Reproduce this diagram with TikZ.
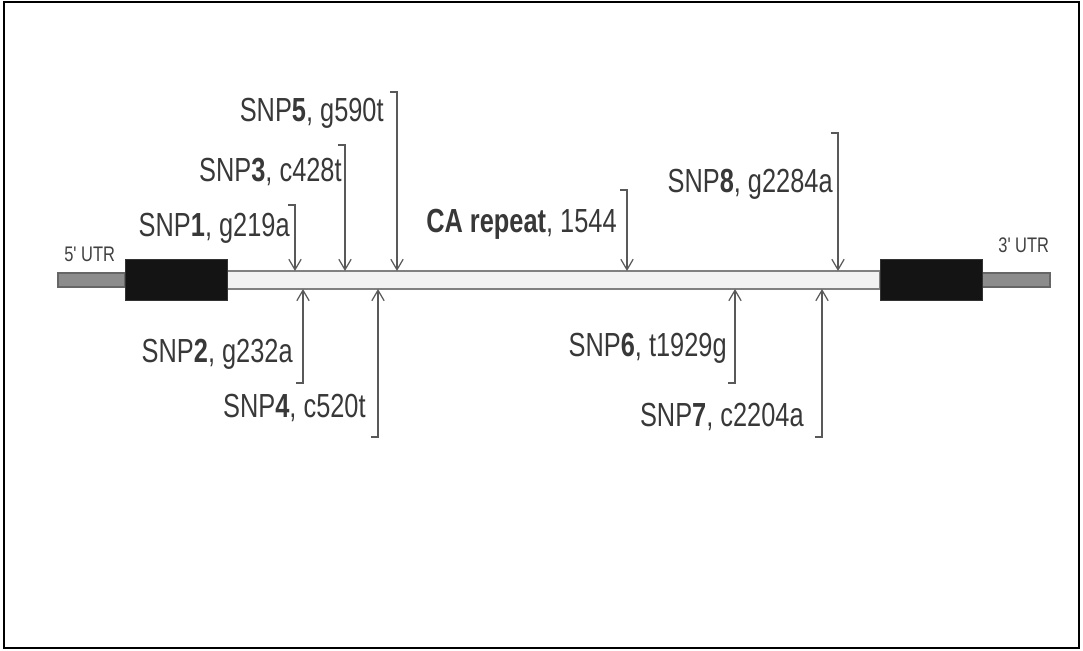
\documentclass[tikz,border=0pt]{standalone}
\usepackage{fontspec}
\setmainfont{Liberation Sans}[FakeStretch=0.76]
\newfontfamily\utrfont{Liberation Sans}[FakeStretch=0.78]
\usepackage{tikz}
\usetikzlibrary{arrows.meta}

\begin{document}
\begin{tikzpicture}[x=0.02cm, y=-0.02cm,
  lbl/.style={anchor=base east, inner sep=0pt, text=black!78, font=\fontsize{19}{21}\selectfont},
  utr/.style={anchor=base west, inner sep=0pt, text=black!75, font=\utrfont\fontsize{12}{14}\selectfont},
  snp/.style={draw=black!65, line width=0.7pt, -{Straight Barb[length=6pt,width=7pt]}}]
  \useasboundingbox (0,0) rectangle (1083,651);
  \draw[line width=1.1pt] (4,2) rectangle (1079,648);
  % gene
  \draw[fill=black!45, draw=black!60, line width=0.8pt] (58,273) rectangle (125,287);
  \draw[fill=black!45, draw=black!60, line width=0.8pt] (982,273) rectangle (1050,287);
  \draw[fill=black!5, draw=black!50, line width=1.4pt] (227,271) rectangle (880,289);
  \draw[fill=black!92, draw=black!80] (125,259) rectangle (227,300);
  \draw[fill=black!92, draw=black!80] (880,259) rectangle (982,300);
  \coordinate (cds) at (0,271);
  \coordinate (cdsb) at (0,289);
  \node[utr] (utr5) at (64,262) {5' UTR};
  \node[utr] (utr3) at (998,253) {3' UTR};
  % labels above
  \node[lbl] (snp1) at (290,237) {SNP\textbf{1}, g219a};
  \node[lbl] (snp3) at (342,182) {SNP\textbf{3}, c428t};
  \node[lbl] (snp5) at (384,122) {SNP\textbf{5}, g590t};
  \node[lbl] (ca) at (617,233) {\textbf{CA repeat}, 1544};
  \node[lbl] (snp8) at (833,193) {SNP\textbf{8}, g2284a};
  % labels below
  \node[lbl] (snp2) at (293,363) {SNP\textbf{2}, g232a};
  \node[lbl] (snp4) at (366,418) {SNP\textbf{4}, c520t};
  \node[lbl] (snp6) at (727,357) {SNP\textbf{6}, t1929g};
  \node[lbl] (snp7) at (804,427) {SNP\textbf{7}, c2204a};
  % arrows
  \draw[snp] (288,205) -- (295,205) -- (295,0 |- cds);
  \draw[snp] (338,145) -- (345,145) -- (345,0 |- cds);
  \draw[snp] (390,92) -- (397,92) -- (397,0 |- cds);
  \draw[snp] (620,190) -- (627,190) -- (627,0 |- cds);
  \draw[snp] (831,133) -- (838,133) -- (838,0 |- cds);
  \draw[snp] (296,383) -- (303,383) -- (303,0 |- cdsb);
  \draw[snp] (371,437) -- (378,437) -- (378,0 |- cdsb);
  \draw[snp] (728,383) -- (735,383) -- (735,0 |- cdsb);
  \draw[snp] (815,437) -- (822,437) -- (822,0 |- cdsb);
\end{tikzpicture}
\end{document}
